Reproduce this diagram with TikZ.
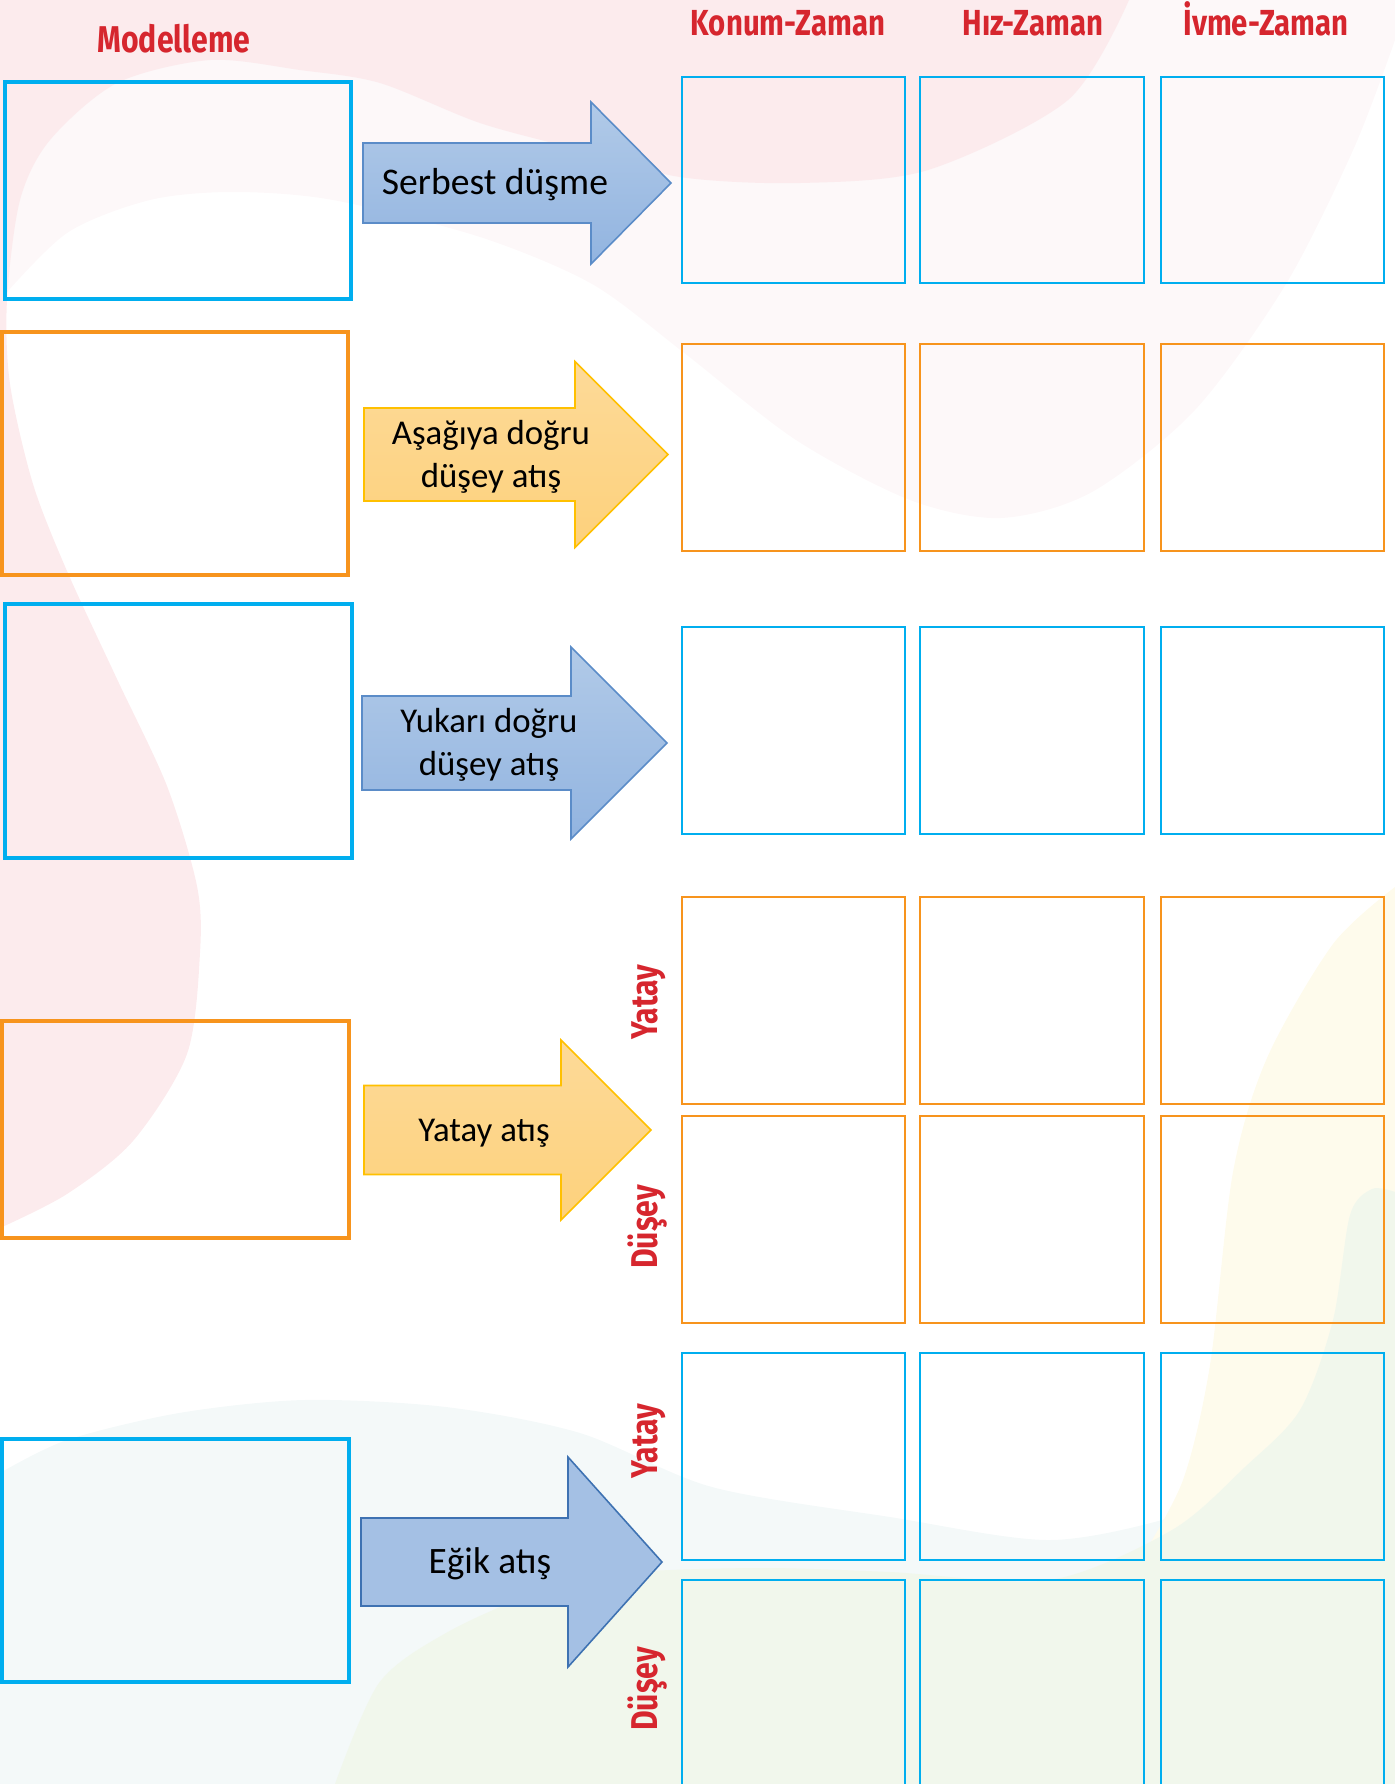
\documentclass[tikz,border=0pt]{standalone}
\usepackage{fontspec}
\setmainfont{Carlito}
\newfontfamily\hdrfont[FakeStretch=0.81]{Fira Sans}
\usetikzlibrary{calc}

\definecolor{boxblue}{HTML}{00AEEF}
\definecolor{boxorange}{HTML}{F7941D}
\definecolor{hdrred}{HTML}{D6262E}
\definecolor{arrblueT}{HTML}{B1CAE8}
\definecolor{arrblueB}{HTML}{92B4E0}
\definecolor{arrblueline}{HTML}{5B8CC8}
\definecolor{arrblueflat}{HTML}{A4C0E4}
\definecolor{arrbluedark}{HTML}{3E72B2}
\definecolor{arryelT}{HTML}{FDDA98}
\definecolor{arryelB}{HTML}{FDD17C}
\definecolor{arryelline}{HTML}{FFC000}
\definecolor{pinkbg}{HTML}{FCEBED}
\definecolor{faintbg}{HTML}{FDF8F9}
\definecolor{bluebg}{HTML}{F4F9F9}
\definecolor{greenbg}{HTML}{F1F7EC}
\definecolor{creambg}{HTML}{FEFBEC}

\tikzset{
  modelbox/.style={line width=0.9pt},
  gridbox/.style={line width=0.55pt},
  bluearrow/.style={draw=arrblueline, line width=0.45pt, top color=arrblueT, bottom color=arrblueB},
  flatarrow/.style={draw=arrbluedark, line width=0.45pt, fill=arrblueflat},
  yelarrow/.style={draw=arryelline, line width=0.45pt, top color=arryelT, bottom color=arryelB},
  hdr/.style={text=hdrred, font=\hdrfont\bfseries\fontsize{10.3}{12}\selectfont, inner sep=0pt},
  side/.style={text=hdrred, font=\hdrfont\bfseries\fontsize{10.6}{12}\selectfont, inner sep=0pt, rotate=90, anchor=base},
  arrtxt/.style={font=\fontsize{9.9}{12.1}\selectfont, align=center, inner sep=0pt},
}

% x0, x1 (head start), tip x, middle y, half body, half head, style
\newcommand{\blockarrow}[7]{%
  \draw[#7] (#1,#4-#5) -- (#2,#4-#5) -- (#2,#4-#6) -- (#3,#4)
    -- (#2,#4+#6) -- (#2,#4+#5) -- (#1,#4+#5) -- cycle;}

\begin{document}
\begin{tikzpicture}[x=0.01cm,y=-0.01cm]
\useasboundingbox (0,0) rectangle (1395,1784);
\clip (0,0) rectangle (1395,1784);

% background
\fill[faintbg] (0,0) -- (1395,0) -- plot[smooth] coordinates {(1395,40) (1354,148) (1286,284) (1195,410) (1092,492) (1001,518) (910,500) (796,440) (683,352) (592,284) (480,237) (333,200) (233,192) (150,200) (67,233) (0,300)} -- cycle;
\fill[pinkbg] (0,0) -- plot[smooth] coordinates {(1129,0) (1068,100) (928,170) (800,183) (680,177) (580,150) (480,123) (380,83) (300,70) (210,60) (117,83) (50,140) (20,200) (7,300) (10,384) (33,484) (67,571) (117,679) (167,786) (197,886) (200,953) (187,1054) (133,1141) (67,1194) (0,1228)} -- cycle;
\fill[bluebg] plot[smooth] coordinates {(0,1473) (67,1440) (179,1413) (304,1400) (446,1407) (580,1433) (712,1487) (890,1517) (1050,1540) (1180,1515) (1260,1480)} -- (1260,1784) -- (0,1784) -- cycle;
\fill[creambg] plot[smooth] coordinates {(1395,887) (1333,944) (1267,1058) (1233,1172) (1210,1365) (1183,1480) (1140,1560)} -- (1395,1784) -- cycle;
\fill[greenbg] plot[smooth] coordinates {(335,1784) (379,1683) (446,1633) (536,1593) (625,1573) (760,1568) (890,1572) (1050,1580) (1172,1530) (1245,1467) (1300,1410) (1333,1320) (1350,1215) (1372,1189) (1395,1192)} -- (1395,1784) -- cycle;

% headers
\node[hdr, anchor=base, font=\hdrfont\bfseries\fontsize{10.6}{12}\selectfont] (modelleme) at (174,52) {Modelleme};
\node[hdr, anchor=base] (konum) at (788,35) {Konum-Zaman};
\node[hdr, anchor=base] (hiz) at (1033,35) {Hız-Zaman};
\node[hdr, anchor=base] (ivme) at (1266,35) {İvme-Zaman};

% modelleme boxes
\draw[modelbox, boxblue] (5,82) rectangle (351,299);
\draw[modelbox, boxorange] (2,332) rectangle (348,575);
\draw[modelbox, boxblue] (5,604) rectangle (352,858);
\draw[modelbox, boxorange] (2,1021) rectangle (349,1238);
\draw[modelbox, boxblue] (2,1439) rectangle (349,1682);

% graph boxes
\foreach \ya/\yb/\c in {77/283/boxblue, 344/551/boxorange, 627/834/boxblue,
    897/1104/boxorange, 1116/1323/boxorange, 1353/1560/boxblue, 1580/1790/boxblue}
  \foreach \xa/\xb in {682/905, 920/1144, 1161/1384}
    \draw[gridbox, \c] (\xa,\ya) rectangle (\xb,\yb);

% arrows
\blockarrow{363}{591}{671}{183}{40}{81}{bluearrow}
\blockarrow{364}{575}{668}{454.5}{46.5}{93}{yelarrow}
\blockarrow{362}{571}{667}{743}{47}{96}{bluearrow}
\blockarrow{364}{561}{651}{1130}{44.5}{90}{yelarrow}
\blockarrow{361}{568}{662}{1562}{44}{105}{flatarrow}

\node[arrtxt, anchor=base, font=\fontsize{10.7}{13}\selectfont] (serbest) at (495,194) {Serbest düşme};
\node[arrtxt] (asagi) at (491,457) {Aşağıya doğru\\düşey atış};
\node[arrtxt] (yukari) at (489,745) {Yukarı doğru\\düşey atış};
\node[arrtxt, anchor=base] (yatayatis) at (484,1141) {Yatay atış};
\node[arrtxt, anchor=base, font=\fontsize{10.6}{13}\selectfont] (egik) at (490,1573) {Eğik atış};

% side labels
\node[side] (yatay1) at (657,1002) {Yatay};
\node[side] (dusey1) at (657,1227) {Düşey};
\node[side] (yatay2) at (657,1441) {Yatay};
\node[side] (dusey2) at (657,1689) {Düşey};
\end{tikzpicture}
\end{document}
